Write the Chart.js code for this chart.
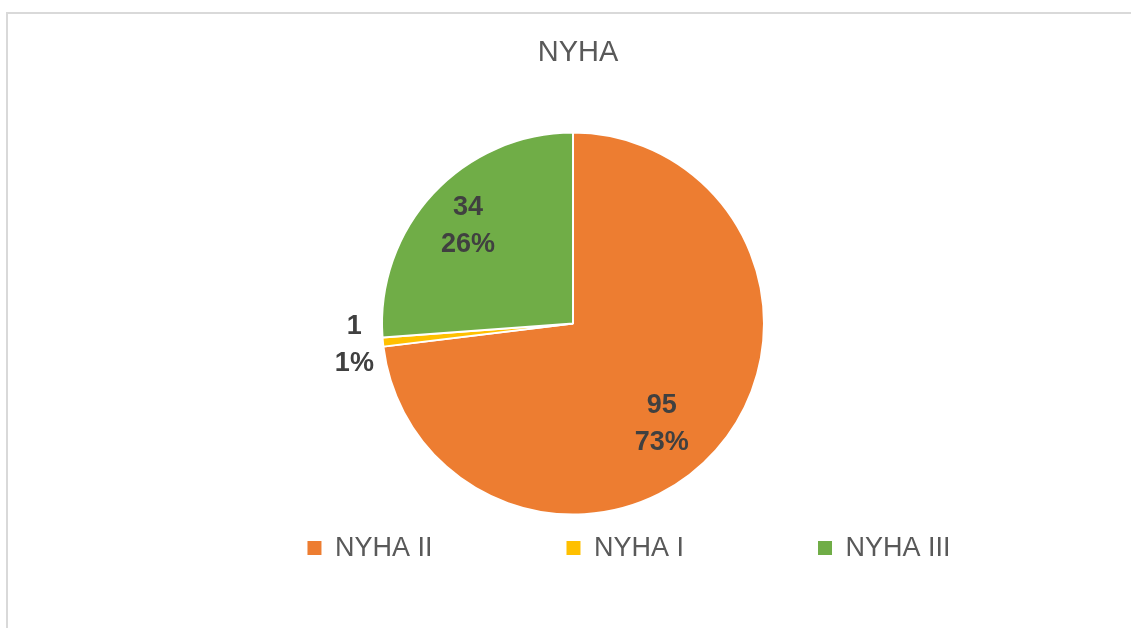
<!DOCTYPE html>
<html><head><meta charset="utf-8">
<script src="https://cdn.jsdelivr.net/npm/chart.js@4"></script>
<style>
html,body{margin:0;padding:0;background:#fff;}
#wrap{position:relative;width:1131px;height:628px;overflow:hidden;}
#frame{position:absolute;left:6px;top:12px;right:-4px;bottom:-4px;border-left:2px solid #d9d9d9;border-top:2px solid #d9d9d9;pointer-events:none;}
canvas{position:absolute;left:0;top:0;}
</style></head><body>
<div id="wrap"><canvas id="c" width="1131" height="628"></canvas><div id="frame"></div></div>
<script>
const chartTitle = 'NYHA';
const categories = ['NYHA II', 'NYHA I', 'NYHA III'];
const counts = [95, 1, 34];
const sliceColors = ['#ED7D31', '#FFC000', '#70AD47'];

Chart.defaults.font.family = '"Liberation Sans", Arial, sans-serif';

const shiftPlugin = {
  id: 'shiftBoxes',
  afterLayout(chart, args, opts) {
    const lg = chart.legend;
    if (lg) { lg.left += opts.legendX; lg.right += opts.legendX; lg.top += opts.legendY; lg.bottom += opts.legendY; }
    const t = chart.titleBlock;
    if (t) { t.left += opts.titleX; t.right += opts.titleX; }
  }
};

const labelPlugin = {
  id: 'sliceLabels',
  afterDatasetsDraw(chart, args, opts) {
    const ctx = chart.ctx;
    const meta = chart.getDatasetMeta(0);
    const data = chart.data.datasets[0].data;
    const total = data.reduce((a, b) => a + b, 0);
    ctx.save();
    ctx.font = 'bold ' + opts.size + 'px "Liberation Sans", Arial, sans-serif';
    ctx.fillStyle = opts.color;
    ctx.textAlign = 'center';
    ctx.textBaseline = 'middle';
    meta.data.forEach((arc, i) => {
      const p = arc.getProps(['x', 'y', 'startAngle', 'endAngle', 'outerRadius'], true);
      const share = data[i] / total;
      const big = share > 0.5;
      const mid = (p.startAngle + p.endAngle) / 2 + (big ? opts.bigSliceTurn : 0);
      const f = share < opts.outsideBelow ? opts.outsideFactor : (big ? opts.bigSliceFactor : opts.insideFactor);
      const cx = p.x + Math.cos(mid) * p.outerRadius * f;
      const cy = p.y + Math.sin(mid) * p.outerRadius * f;
      ctx.fillText(String(data[i]), cx, cy - opts.lineGap / 2);
      ctx.fillText(Math.round(share * 100) + '%', cx, cy + opts.lineGap / 2);
    });
    ctx.restore();
  }
};

new Chart(document.getElementById('c'), {
  type: 'pie',
  data: {
    labels: categories,
    datasets: [{
      data: counts,
      backgroundColor: sliceColors,
      borderColor: '#ffffff',
      borderWidth: 2
    }]
  },
  plugins: [shiftPlugin, labelPlugin],
  options: {
    responsive: false,
    animation: false,
    layout: { padding: { left: 15, right: 0, top: 0, bottom: -58.6 } },
    plugins: {
      title: {
        display: true,
        text: chartTitle,
        color: '#595959',
        font: { size: 29, weight: 'normal' },
        padding: { top: 35.4, bottom: 61.4 }
      },
      legend: {
        position: 'bottom',
        labels: {
          color: '#595959',
          font: { size: 27 },
          boxWidth: 14,
          boxHeight: 14,
          padding: 134,
          generateLabels(chart) {
            const items = Chart.overrides.doughnut.plugins.legend.labels.generateLabels(chart);
            items.forEach(it => { it.lineWidth = 0; });
            return items;
          }
        }
      },
      tooltip: { enabled: false },
      shiftBoxes: { legendX: 56, legendY: -115, titleX: 5 },
      sliceLabels: { size: 27, color: '#404040', lineGap: 37, insideFactor: 0.75, bigSliceFactor: 0.7, outsideFactor: 1.15, outsideBelow: 0.05, bigSliceTurn: 0.12 }
    }
  }
});
</script>
</body></html>
